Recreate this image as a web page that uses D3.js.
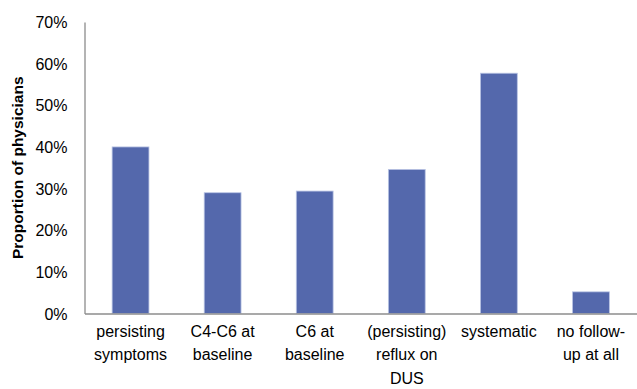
<!DOCTYPE html>
<html>
<head>
<meta charset="utf-8">
<style>
  body { margin: 0; background: #ffffff; }
  svg { display: block; font-family: "Liberation Sans", Arial, sans-serif; }
  .axis .domain { stroke: #8c8c8c; stroke-width: 1.3px; }
  .axis .tick line { display: none; }
  .y.axis .tick text { font-size: 16px; fill: #000; }
  .x-label { font-size: 16px; fill: #000; }
  .y-title { font-size: 15.5px; font-weight: bold; fill: #000; }
</style>
</head>
<body>
<div id="chart"></div>
<script src="https://cdn.jsdelivr.net/npm/d3@7"></script>
<script>
// categories (each label broken into its lines) and proportion values
var categories = ["persisting symptoms", "C4-C6 at baseline", "C6 at baseline",
  "(persisting) reflux on DUS", "systematic", "no follow-up at all"];
var labelLines = [
  ["persisting", "symptoms"],
  ["C4-C6 at", "baseline"],
  ["C6 at", "baseline"],
  ["(persisting)", "reflux on", "DUS"],
  ["systematic"],
  ["no follow-", "up at all"]
];
var values = [0.40, 0.29, 0.294, 0.346, 0.577, 0.052];
var yTicks = [0, 0.1, 0.2, 0.3, 0.4, 0.5, 0.6, 0.7];

var width = 637, height = 389;
var margin = {top: 22, right: 0, bottom: 75.5, left: 84.5};

var svg = d3.select("#chart").append("svg")
    .attr("width", width)
    .attr("height", height);

var x = d3.scaleBand()
    .domain(categories)
    .range([margin.left, width - margin.right])
    .paddingInner(0.6)
    .paddingOuter(0.3);

var y = d3.scaleLinear()
    .domain([0, 0.7])
    .range([height - margin.bottom, margin.top]);

// bars
svg.selectAll("rect.bar")
    .data(values)
  .enter().append("rect")
    .attr("class", "bar")
    .attr("x", function(d, i){ return x(categories[i]); })
    .attr("y", function(d){ return y(d); })
    .attr("width", x.bandwidth())
    .attr("height", function(d){ return y(0) - y(d); })
    .style("fill", "#5468ac")
    .style("stroke", "#b9c4e4")
    .style("stroke-width", 0.8);

// y axis
var yAxis = d3.axisLeft(y)
    .tickValues(yTicks)
    .tickSize(0)
    .tickPadding(17)
    .tickFormat(d3.format(".0%"));

svg.append("g")
    .attr("class", "y axis")
    .attr("transform", "translate(" + margin.left + ",0)")
    .call(yAxis)
    .call(function(g){ g.selectAll("text").attr("dy", "0.35em"); });

// x axis (baseline only)
var xAxis = d3.axisBottom(x).tickSize(0).tickFormat("");
svg.append("g")
    .attr("class", "x axis")
    .attr("transform", "translate(0," + y(0) + ")")
    .call(xAxis);

// category labels, wrapped like the original
var lbl = svg.selectAll("text.x-label")
    .data(categories)
  .enter().append("text")
    .attr("class", "x-label")
    .attr("text-anchor", "middle")
    .attr("x", function(d){ return x(d) + x.bandwidth() / 2; })
    .attr("y", y(0) + 23);

lbl.selectAll("tspan")
    .data(function(d, i){ return labelLines[i]; })
  .enter().append("tspan")
    .attr("x", function(){ var p = d3.select(this.parentNode); return p.attr("x"); })
    .attr("dy", function(d, i){ return i === 0 ? 0 : 23.5; })
    .text(function(d){ return d; });

// y title
svg.append("text")
    .attr("class", "y-title")
    .attr("text-anchor", "middle")
    .attr("transform", "translate(23," + ((y(0) + y(0.7)) / 2) + ") rotate(-90)")
    .text("Proportion of physicians");
</script>
</body>
</html>
